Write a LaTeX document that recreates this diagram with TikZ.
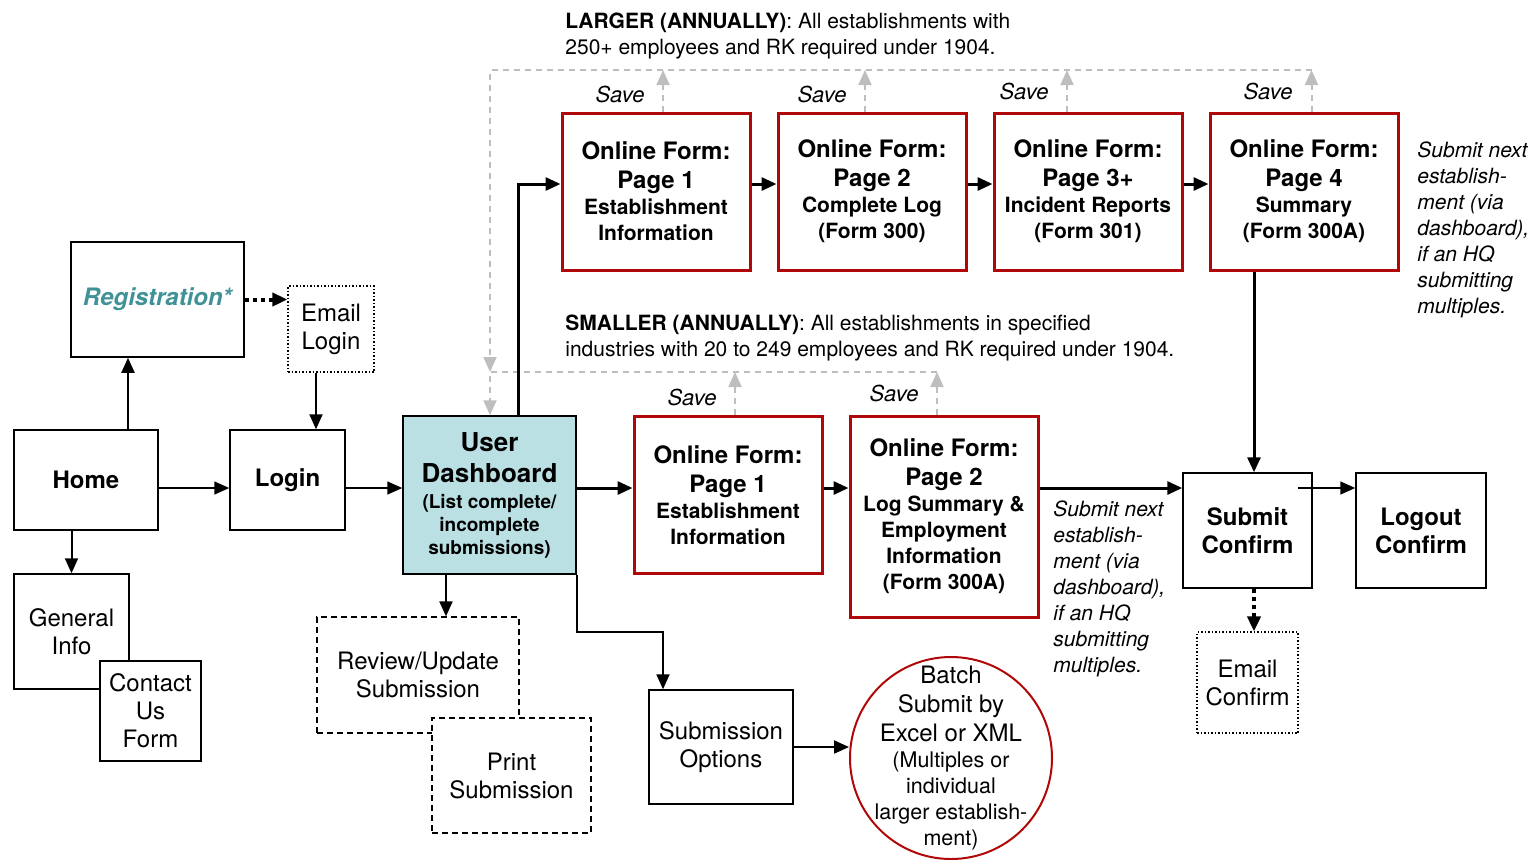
\documentclass[tikz,border=0pt]{standalone}
\usepackage{fontspec}
\setmainfont{TeX Gyre Heros}
\usetikzlibrary{arrows.meta,positioning}

\definecolor{formred}{RGB}{176,8,8}
\definecolor{regteal}{RGB}{64,146,150}
\definecolor{dashblue}{RGB}{186,224,228}
\definecolor{savegray}{RGB}{190,190,190}

\newcommand{\headsize}{\fontsize{12}{14}\selectfont}
\newcommand{\formsize}{\fontsize{12}{14.5}\selectfont}
\newcommand{\subsize}{\fontsize{10.5}{13}\selectfont}
\newcommand{\dashsub}{\fontsize{9.5}{11.5}\selectfont}
\newcommand{\batchsub}{\fontsize{10.75}{13}\selectfont}

\begin{document}
\begin{tikzpicture}[x=0.5pt,y=-0.5pt,on grid,node distance=108pt,
    >={Triangle[length=7.5pt,width=6.5pt]},
    box/.style={draw,line width=0.75pt,align=center,inner sep=1pt,font=\headsize},
    page/.style={box,font=\bfseries\headsize},
    form/.style={draw=formred,line width=1.5pt,align=center,inner sep=1pt,
      minimum width=94pt,minimum height=78.5pt,font=\bfseries\formsize},
    mailbox/.style={box,densely dotted,line width=0.6pt},
    extrabox/.style={box,dash pattern=on 3pt off 2pt,line width=0.6pt,fill=white},
    savetxt/.style={font=\itshape\fontsize{11}{13}\selectfont,inner sep=0pt,anchor=base},
    notetxt/.style={align=left,inner sep=0pt,anchor=base west,font=\itshape\subsize},
    headtxt/.style={align=left,inner sep=0pt,anchor=base west,font=\subsize},
    thinflow/.style={->,line width=0.8pt},
    midflow/.style={->,line width=1pt},
    boldflow/.style={->,line width=1.5pt},
    dotflow/.style={->,line width=2pt,dash pattern=on 2pt off 2pt},
    savepath/.style={->,draw=savegray,line width=1pt,dash pattern=on 3pt off 2.5pt}]

  \useasboundingbox (0,0) rectangle (1537,859);

  % entry pages
  \node[box,minimum width=86.5pt,minimum height=57.5pt,font=\bfseries\itshape\headsize,text=regteal] (reg) at (157.5,299.5) {Registration*};
  \node[mailbox,minimum width=43pt,minimum height=43pt] (elogin) at (331,329) {Email\\Login};
  \node[page,minimum width=72pt,minimum height=50pt] (home) at (86,480) {Home};
  \node[page,minimum width=57.5pt,minimum height=50pt] (login) at (287.5,480) {Login};
  \node[box,minimum width=57.5pt,minimum height=57.5pt] (geninfo) at (71.5,631.5) {General\\Info};
  \node[box,fill=white,minimum width=50.5pt,minimum height=50pt] (contact) at (150.5,711) {Contact\\Us\\Form};

  % dashboard and its options
  \node[box,fill=dashblue,minimum width=86.5pt,minimum height=79pt,font=\bfseries\fontsize{13}{15.5}\selectfont] (dash) at (489.5,495)
    {User\\Dashboard\\[-2.5pt]\dashsub(List complete/\\[-4pt]\dashsub incomplete\\[-4pt]\dashsub submissions)};
  \node[extrabox,minimum width=101pt,minimum height=58pt] (review) at (418,675) {Review/Update\\Submission};
  \node[extrabox,minimum width=79.5pt,minimum height=57.5pt] (print) at (511.5,775.5) {Print\\Submission};
  \node[box,minimum width=72pt,minimum height=57pt] (subopt) at (721,747) {Submission\\Options};
  \node[draw=formred,line width=1pt,circle,minimum size=101pt,inner sep=0pt] (batch) at (951,758) {};
  \node[align=center,font=\formsize] (batchtxt) at (batch.center)
    {Batch\\Submit by\\Excel or XML\\[-1.5pt]\batchsub(Multiples or\\[-1.5pt]\batchsub individual\\[-1.5pt]\batchsub larger establish-\\[-1.5pt]\batchsub ment)};

  % larger establishments
  \node[form] (lp1) at (656,191.5) {Online Form:\\Page 1\\[-1.5pt]\subsize Establishment\\[-1.5pt]\subsize Information};
  \node[form] (lp2) [right=of lp1] {Online Form:\\Page 2\\[-1.5pt]\subsize Complete Log\\[-1.5pt]\subsize (Form 300)};
  \node[form] (lp3) [right=of lp2] {Online Form:\\Page 3+\\[-1.5pt]\subsize Incident Reports\\[-1.5pt]\subsize (Form 301)};
  \node[form] (lp4) [right=of lp3] {Online Form:\\Page 4\\[-1.5pt]\subsize Summary\\[-1.5pt]\subsize (Form 300A)};

  % smaller establishments
  \node[form] (sp1) at (728,495) {Online Form:\\Page 1\\[-1.5pt]\subsize Establishment\\[-1.5pt]\subsize Information};
  \node[form,minimum height=100.5pt] (sp2) at (944,516.5)
    {Online Form:\\Page 2\\[-1.5pt]\subsize Log Summary \&\\[-1.5pt]\subsize Employment\\[-1.5pt]\subsize Information\\[-1.5pt]\subsize (Form 300A)};

  % end pages
  \node[page,minimum width=64.5pt,minimum height=57.5pt] (subconf) at (1247.5,530.5) {Submit\\Confirm};
  \node[page,minimum width=65pt,minimum height=57.5pt] (logout) at (1421,530.5) {Logout\\Confirm};
  \node[mailbox,minimum width=50.5pt,minimum height=50.5pt] (econf) at (1247.5,682.5) {Email\\Confirm};

  % headings and notes
  \node[headtxt] (larger) at (565,54) {\textbf{LARGER (ANNUALLY)}: All establishments with\\250+ employees and RK required under 1904.};
  \node[headtxt] (smaller) at (565,356) {\textbf{SMALLER (ANNUALLY)}: All establishments in specified\\industries with 20 to 249 employees and RK required under 1904.};
  \node[notetxt] (nexttop) at (1417,313) {Submit next\\establish-\\ment (via\\dashboard),\\if an HQ\\submitting\\multiples.};
  \node[notetxt] (nextmid) at (1053,672) {Submit next\\establish-\\ment (via\\dashboard),\\if an HQ\\submitting\\multiples.};

  % save loops
  \coordinate (lgtop) at (490,70);
  \coordinate (smtop) at (490,372);
  \coordinate (lsave1) at ([xshift=3.5pt]lp1.north);
  \coordinate (lsave2) at ([xshift=-3.5pt]lp2.north);
  \coordinate (lsave3) at ([xshift=-10.5pt]lp3.north);
  \coordinate (lsave4) at ([xshift=3.75pt]lp4.north);
  \coordinate (ssave1) at ([xshift=3.5pt]sp1.north);
  \coordinate (ssave2) at ([xshift=-3.5pt]sp2.north);
  \node[savetxt] (sv1) at (620,102) {Save};
  \node[savetxt] (sv2) at (822,102) {Save};
  \node[savetxt] (sv3) at (1024,99) {Save};
  \node[savetxt] (sv4) at (1268,99) {Save};
  \node[savetxt] (sv5) at (692,405) {Save};
  \node[savetxt] (sv6) at (894,401) {Save};

  \draw[savepath] (lsave1) -- (lsave1 |- lgtop);
  \draw[savepath] (lsave2) -- (lsave2 |- lgtop);
  \draw[savepath] (lsave3) -- (lsave3 |- lgtop);
  \draw[savepath] (lsave4) -- (lsave4 |- lgtop);
  \draw[savepath] (ssave1) -- (ssave1 |- smtop);
  \draw[savepath] (ssave2) -- (ssave2 |- smtop);
  \draw[savepath] (lsave4 |- lgtop) -- (lgtop) -- (smtop);
  \draw[savepath] (ssave2 |- smtop) -- (smtop) -- (dash.north -| smtop);

  % flow
  \coordinate (midrow) at (0,488);
  \coordinate (toprow) at (0,184);
  \coordinate (subx) at (1254,0);
  \coordinate (subout) at (1298,488);

  \draw[thinflow] (home.east |- midrow) -- (login.west |- midrow);
  \draw[thinflow] (login.east |- midrow) -- (dash.west |- midrow);
  \draw[boldflow] (dash.east |- midrow) -- (sp1.west |- midrow);
  \draw[boldflow] (sp1.east |- midrow) -- (sp2.west |- midrow);
  \draw[boldflow] (sp2.east |- midrow) -- (subconf.west |- midrow);
  \draw[thinflow] (subout) -- (logout.west |- midrow);

  \draw[boldflow] ([xshift=14.25pt]dash.north) |- (lp1.west |- toprow);
  \draw[boldflow] (lp1.east |- toprow) -- (lp2.west |- toprow);
  \draw[boldflow] (lp2.east |- toprow) -- (lp3.west |- toprow);
  \draw[boldflow] (lp3.east |- toprow) -- (lp4.west |- toprow);
  \draw[boldflow] (lp4.south -| subx) -- (subconf.north -| subx);
  \draw[dotflow] (subconf.south -| subx) -- (econf.north -| subx);

  \draw[midflow] ([xshift=21pt]home.north) -- ([xshift=21pt]home.north |- reg.south);
  \draw[midflow] (home.south -| geninfo) -- (geninfo.north);
  \draw[dotflow] (reg.east) -- (elogin.west |- reg.east);
  \draw[midflow] ([xshift=-7.5pt]elogin.south) -- ([xshift=-7.5pt]elogin.south |- login.north);
  \draw[midflow] ([xshift=-21.75pt]dash.south) -- ([xshift=-21.75pt]dash.south |- review.north);
  \draw[midflow] (dash.south east) -- ++(0,57) -| ([xshift=-29pt]subopt.north);
  \draw[midflow] (subopt.east) -- (subopt.east -| batch.west);
\end{tikzpicture}
\end{document}
